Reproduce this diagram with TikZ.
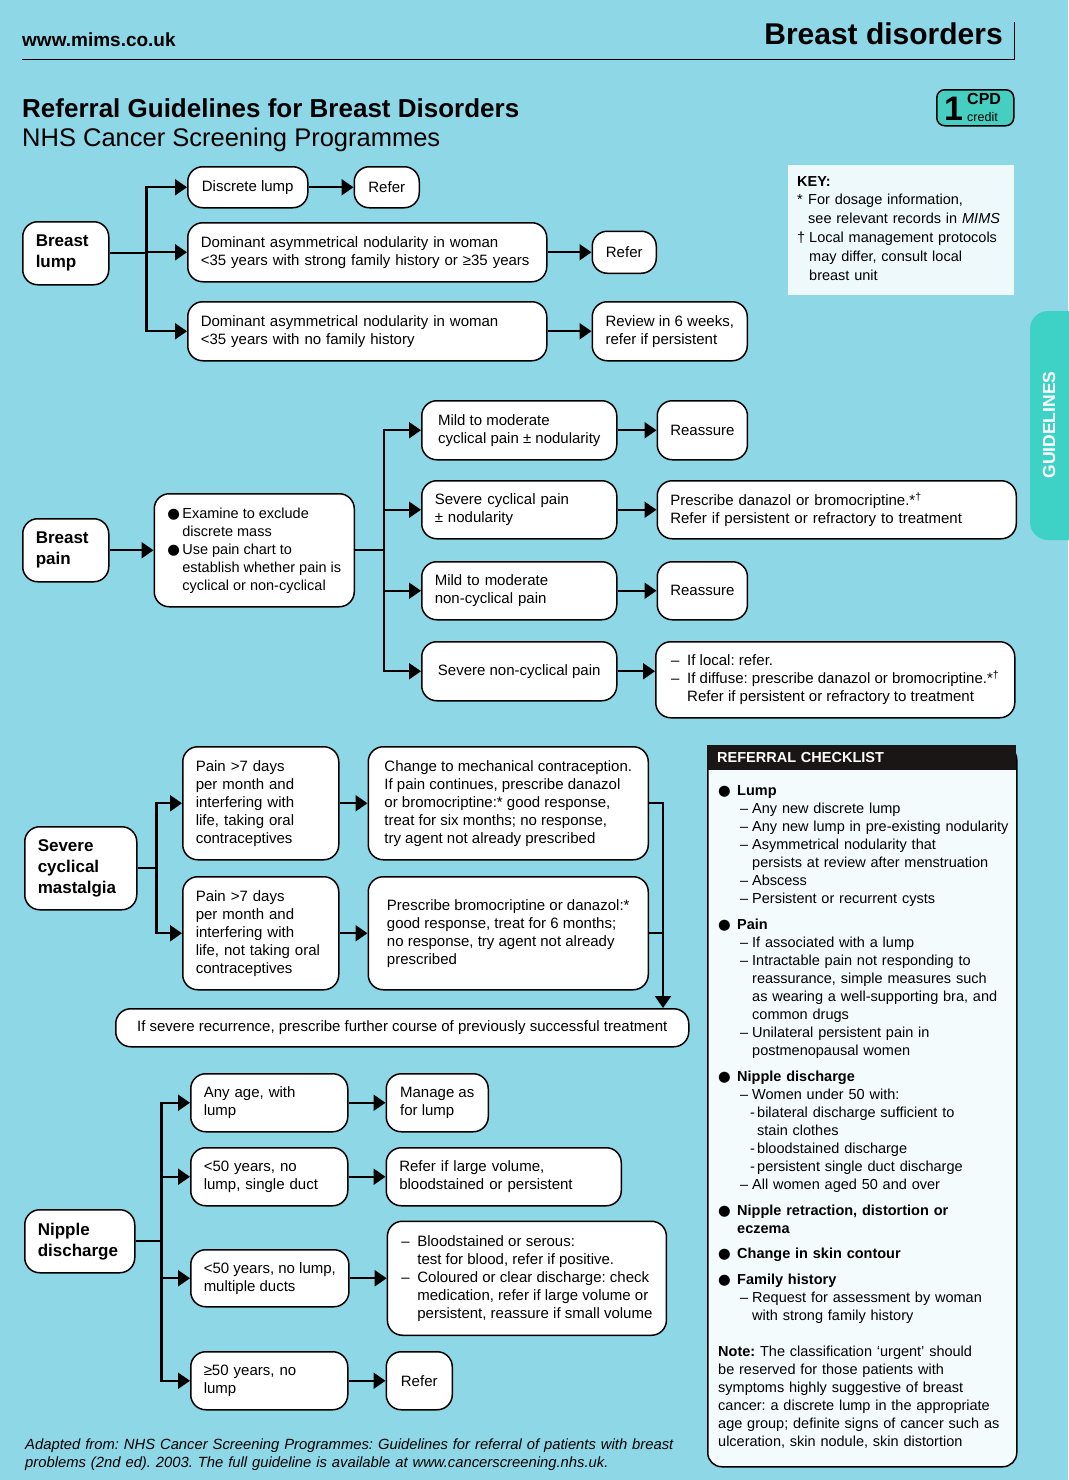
\documentclass[tikz,border=0pt]{standalone}
\usepackage{fontspec}
\setmainfont{Liberation Sans}
\newfontfamily\symbfont{DejaVu Sans}
\frenchspacing
\usetikzlibrary{positioning, arrows.meta}

\definecolor{paper}{RGB}{142,215,230}
\definecolor{tabteal}{RGB}{62,210,198}
\definecolor{cpdteal}{RGB}{70,206,192}
\definecolor{headblack}{RGB}{26,22,22}

\newcommand\pbul{\makebox[15pt][l]{\symbfont●}}
\newcommand\pcont{\hspace*{15pt}}
\newcommand\fdash{\makebox[16pt][l]{–}}
\newcommand\fcont{\hspace*{16pt}}
\newcommand\chkbul[1]{\makebox[19pt][l]{\symbfont●}\textbf{#1}}
\newcommand\chkdash{\hspace*{22pt}\makebox[12pt][l]{–}}
\newcommand\chkcont{\hspace*{34pt}}
\newcommand\chksub{\hspace*{32pt}\makebox[7pt][l]{-}}
\newcommand\chksubcont{\hspace*{39pt}}

\begin{document}
\begin{tikzpicture}[x=1pt, y=-1pt,
    flowbox/.style={draw, line width=1.5pt, rounded corners=15pt, fill=white, align=left, inner xsep=13pt, inner ysep=3pt, font=\fontsize{15}{18}\selectfont},
    titlebox/.style={flowbox, font=\bfseries\fontsize{17}{21}\selectfont},
    flowline/.style={line width=2.2pt},
    flowarrow/.style={flowline, -{Triangle[length=12pt, width=16pt]}},
    textline/.style={inner sep=0pt, align=left, anchor=base west}]

    \fill[paper] (0,0) rectangle (1068,1480);
    \useasboundingbox (0,0) rectangle (1068,1480);

    \node[textline, font=\bfseries\fontsize{19}{22}\selectfont] (site) at (22,47) {www.mims.co.uk};
    \node[textline, anchor=base east, font=\bfseries\fontsize{30}{34}\selectfont] (topic) at (1003,45) {Breast disorders};
    \draw[line width=1pt] (22,60) -- (1014,60) -- (1014,22);

    \node[textline, font=\bfseries\fontsize{26}{30}\selectfont] (title) at (22,117) {Referral Guidelines for Breast Disorders};
    \node[textline, font=\fontsize{25.5}{28}\selectfont] (subtitle) at (22,146) {NHS Cancer Screening Programmes};

    \node[draw, line width=1.5pt, fill=cpdteal, rounded corners=8pt, minimum width=77pt, minimum height=36pt, anchor=north west] (CPD) at (936,89) {};
    \node[textline, font=\bfseries\fontsize{34}{34}\selectfont] (cpdnum) at (944,120) {1};
    \node[textline, font=\bfseries\fontsize{16}{16}\selectfont] (cpdword) at (967,104.5) {CPD};
    \node[textline, font=\fontsize{12.5}{13}\selectfont] (cpdcredit) at (967,121.5) {credit};

    \node[fill=white, fill opacity=0.85, minimum width=226pt, minimum height=130pt, anchor=north west, inner sep=0pt] (KP) at (788,165) {};
    \node[textline, text width=215pt, font=\fontsize{14.5}{18.8}\selectfont] (KT) at (797,186) {\textbf{KEY:}\\
        \makebox[11pt][l]{*}For dosage information,\\
        \hspace*{11pt}see relevant records in \textit{MIMS}\\
        \makebox[12pt][l]{†}Local management protocols\\
        \hspace*{12pt}may differ, consult local\\
        \hspace*{12pt}breast unit};

    \fill[tabteal, rounded corners=18pt] (1030,311) rectangle (1100,540);
    \node[rotate=90, text=white, font=\bfseries\fontsize{17.5}{20}\selectfont] (tab) at (1049,425) {GUIDELINES};

    \node[titlebox, text width=60pt, minimum height=63pt, anchor=north west] (BL) at (22,221) {Breast\\lump};
    \node[flowbox, minimum width=120pt, minimum height=41pt, anchor=north west] (DL) at (187,166) {Discrete lump};
    \node[flowbox, minimum width=65pt, minimum height=41pt, right=45pt of DL] (R1) {Refer};
    \node[flowbox, text width=333pt, minimum height=59pt, anchor=north west] (DA1) at (187,222) {Dominant asymmetrical nodularity in woman\\<35 years with strong family history or ≥35 years};
    \node[flowbox, minimum width=64pt, minimum height=42pt, right=44pt of DA1] (R2) {Refer};
    \node[flowbox, text width=333pt, minimum height=59pt, anchor=north west] (DA2) at (187,301) {Dominant asymmetrical nodularity in woman\\<35 years with no family history};
    \node[flowbox, minimum width=155pt, minimum height=59pt, right=44pt of DA2] (RV) {Review in 6 weeks,\\refer if persistent};

    \foreach \t in {DL,DA1,DA2} \draw[flowarrow] (BL.east) -- ++(37,0) |- (\t);
    \draw[flowarrow] (DL) -- (R1);
    \draw[flowarrow] (DA1) -- (R2);
    \draw[flowarrow] (DA2) -- (RV);

    \node[titlebox, text width=60pt, minimum height=63pt, anchor=north west] (BP) at (22,518) {Breast\\pain};
    \node[flowbox, inner xsep=9pt, minimum width=200pt, minimum height=113pt, right=44pt of BP, font=\fontsize{14.5}{18}\selectfont] (EX) {\pbul Examine to exclude\\
        \pcont discrete mass\\
        \pbul Use pain chart to\\
        \pcont establish whether pain is\\
        \pcont cyclical or non-cyclical};
    \node[flowbox, minimum width=195pt, minimum height=59pt, anchor=north west] (MC) at (421,400) {Mild to moderate\\cyclical pain ± nodularity};
    \node[flowbox, text width=169pt, minimum height=58pt, anchor=north west] (SC) at (421,480) {Severe cyclical pain\\± nodularity};
    \node[flowbox, text width=169pt, minimum height=58pt, anchor=north west] (MN) at (421,561) {Mild to moderate\\non-cyclical pain};
    \node[flowbox, minimum width=195pt, minimum height=59pt, anchor=north west] (SN) at (421,641) {Severe non-cyclical pain};
    \node[flowbox, minimum width=90pt, minimum height=59pt, right=39pt of MC] (RA1) {Reassure};
    \node[flowbox, text width=333pt, minimum height=58pt, right=39pt of SC] (PD) {Prescribe danazol or bromocriptine.*\textsuperscript{†}\\Refer if persistent or refractory to treatment};
    \node[flowbox, minimum width=90pt, minimum height=58pt, right=39pt of MN] (RA2) {Reassure};
    \node[flowbox, minimum width=359pt, minimum height=76pt, anchor=north west] (SNR) at (655,641) {\fdash If local: refer.\\
        \fdash If diffuse: prescribe danazol or bromocriptine.*\textsuperscript{†}\\
        \fcont Refer if persistent or refractory to treatment};

    \draw[flowarrow] (BP) -- (EX);
    \foreach \t in {MC,SC,MN,SN} \draw[flowarrow] (EX.east) -- ++(29,0) |- (\t);
    \draw[flowarrow] (MC) -- (RA1);
    \draw[flowarrow] (SC) -- (PD);
    \draw[flowarrow] (MN) -- (RA2);
    \draw[flowarrow] (SN) -- (SN -| SNR.west);

    \node[titlebox, text width=86pt, minimum height=83pt, anchor=north west] (SCM) at (24,826) {Severe\\cyclical\\mastalgia};
    \node[flowbox, text width=130pt, minimum height=113pt, anchor=north west] (P1) at (182,746) {Pain >7 days\\per month and\\interfering with\\life, taking oral\\contraceptives};
    \node[flowbox, text width=130pt, minimum height=113pt, anchor=north west] (P2) at (182,876) {Pain >7 days\\per month and\\interfering with\\life, not taking oral\\contraceptives};
    \node[flowbox, minimum width=280pt, minimum height=113pt, right=28pt of P1] (C1) {Change to mechanical contraception.\\If pain continues, prescribe danazol\\or bromocriptine:* good response,\\treat for six months; no response,\\try agent not already prescribed};
    \node[flowbox, minimum width=280pt, minimum height=113pt, right=28pt of P2] (C2) {Prescribe bromocriptine or danazol:*\\good response, treat for 6 months;\\no response, try agent not already\\prescribed};
    \node[flowbox, minimum width=573pt, minimum height=38pt, anchor=north west] (IF) at (115,1008) {If severe recurrence, prescribe further course of previously successful treatment};
    \coordinate (join) at (663,802);

    \foreach \t in {P1,P2} \draw[flowarrow] (SCM.east) -- ++(19,0) |- (\t);
    \draw[flowarrow] (P1) -- (C1);
    \draw[flowarrow] (P2) -- (C2);
    \draw[flowline] (C2.east) -- (C2.east -| join);
    \draw[flowarrow] (C1.east) -| (IF.north -| join);

    \node[titlebox, text width=84pt, minimum height=63pt, anchor=north west] (ND) at (24,1209) {Nipple\\discharge};
    \node[flowbox, text width=131pt, minimum height=58pt, anchor=north west] (NA) at (190,1073) {Any age, with\\lump};
    \node[flowbox, text width=131pt, minimum height=58pt, anchor=north west] (NB) at (190,1147) {<50 years, no\\lump, single duct};
    \node[flowbox, minimum width=157pt, minimum height=57pt, anchor=north west] (NC) at (190,1249) {<50 years, no lump,\\multiple ducts};
    \node[flowbox, text width=131pt, minimum height=58pt, anchor=north west] (NO) at (190,1351) {≥50 years, no\\lump};
    \node[flowbox, minimum width=102pt, minimum height=58pt, right=37pt of NA] (MA) {Manage as\\for lump};
    \node[flowbox, text width=209pt, minimum height=58pt, right=37pt of NB] (RL) {Refer if large volume,\\bloodstained or persistent};
    \node[flowbox, minimum width=279pt, minimum height=114pt, right=37pt of NC] (BS) {\fdash Bloodstained or serous:\\
        \fcont test for blood, refer if positive.\\
        \fdash Coloured or clear discharge: check\\
        \fcont medication, refer if large volume or\\
        \fcont persistent, reassure if small volume};
    \node[flowbox, minimum width=66pt, minimum height=58pt, right=37pt of NO] (R3) {Refer};

    \foreach \t in {NA,NB,NC,NO} \draw[flowarrow] (ND.east) -- ++(26,0) |- (\t);
    \draw[flowarrow] (NA) -- (MA);
    \draw[flowarrow] (NB) -- (RL);
    \draw[flowarrow] (NC) -- (BS);
    \draw[flowarrow] (NO) -- (R3);

    \node[draw, line width=1.5pt, rounded corners=14pt, fill=white, fill opacity=0.9, draw opacity=1, minimum width=309pt, minimum height=721pt, anchor=north west, inner sep=0pt] (CL) at (707,745) {};
    \node[fill=headblack, text=white, font=\bfseries\fontsize{14.5}{17}\selectfont, inner sep=0pt, inner xsep=10pt, text width=289pt, align=left, minimum height=25pt, anchor=north west] (CLH) at (707,745) {REFERRAL CHECKLIST};
    \node[textline, text width=292pt, font=\fontsize{14.5}{18}\selectfont] (CLT) at (718,795) {\chkbul{Lump}\\
        \chkdash Any new discrete lump\\
        \chkdash Any new lump in pre-existing nodularity\\
        \chkdash Asymmetrical nodularity that\\
        \chkcont persists at review after menstruation\\
        \chkdash Abscess\\
        \chkdash Persistent or recurrent cysts\\[8pt]
        \chkbul{Pain}\\
        \chkdash If associated with a lump\\
        \chkdash Intractable pain not responding to\\
        \chkcont reassurance, simple measures such\\
        \chkcont as wearing a well-supporting bra, and\\
        \chkcont common drugs\\
        \chkdash Unilateral persistent pain in\\
        \chkcont postmenopausal women\\[8pt]
        \chkbul{Nipple discharge}\\
        \chkdash Women under 50 with:\\
        \chksub bilateral discharge sufficient to\\
        \chksubcont stain clothes\\
        \chksub bloodstained discharge\\
        \chksub persistent single duct discharge\\
        \chkdash All women aged 50 and over\\[8pt]
        \chkbul{Nipple retraction, distortion or}\\
        \hspace*{19pt}\textbf{eczema}\\[7pt]
        \chkbul{Change in skin contour}\\[8pt]
        \chkbul{Family history}\\
        \chkdash Request for assessment by woman\\
        \chkcont with strong family history\\[18pt]
        \textbf{Note:} The classification ‘urgent’ should\\
        be reserved for those patients with\\
        symptoms highly suggestive of breast\\
        cancer: a discrete lump in the appropriate\\
        age group; definite signs of cancer such as\\
        ulceration, skin nodule, skin distortion};

    \node[textline, text width=700pt, font=\itshape\fontsize{14.8}{18}\selectfont] (source) at (25,1449) {Adapted from: NHS Cancer Screening Programmes: Guidelines for referral of patients with breast\\problems (2nd ed). 2003. The full guideline is available at www.cancerscreening.nhs.uk.};
\end{tikzpicture}
\end{document}
